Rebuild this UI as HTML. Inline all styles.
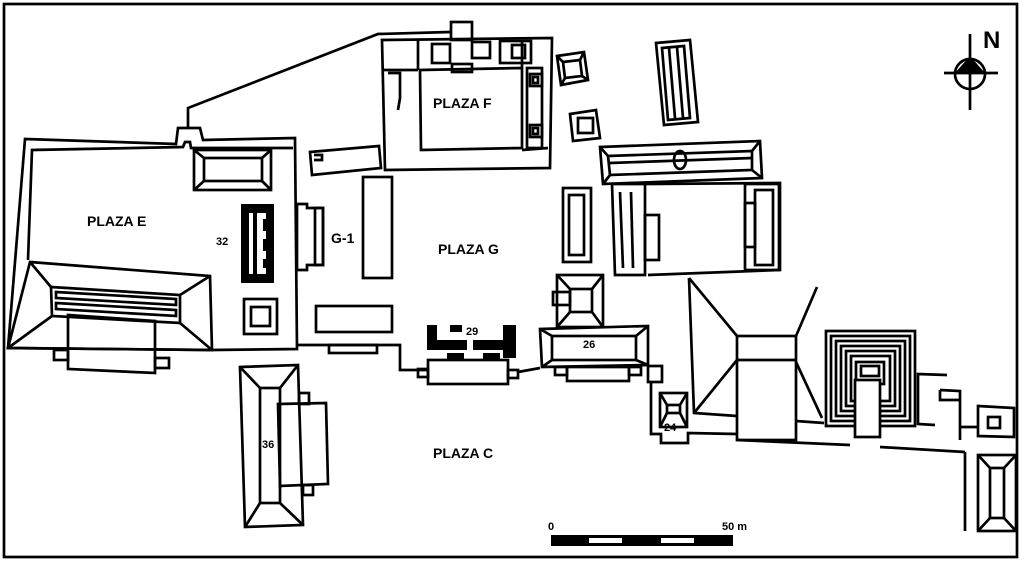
<!DOCTYPE html>
<html><head><meta charset="utf-8"><style>
html,body{margin:0;padding:0;background:#fff}
svg{display:block}
text{font-family:"Liberation Sans",sans-serif;font-weight:bold;fill:#000}
</style></head><body>
<svg width="1024" height="562" viewBox="0 0 1024 562" xmlns="http://www.w3.org/2000/svg">
<rect x="0" y="0" width="1024" height="562" fill="#fff"/>
<g fill="none" stroke="#000" stroke-width="2.7" stroke-linejoin="miter">
<rect x="4" y="4" width="1013" height="553"/>
<polyline points="188,128 188,108 378,34 450,32"/>
<polygon points="25,139 176,144 178,128 200,128 203,140 295,138 297,349 212,350 8,348"/>
<polyline points="28,260 32,150 183,147 185,142 190,142 191,148 293,148"/>
<polygon points="30,262 210,276 212,350 8,348"/>
<polygon points="51,287 180,295 180,323 52,316"/>
<line x1="30" y1="262" x2="51" y2="287"/><line x1="210" y1="276" x2="180" y2="295"/>
<line x1="8" y1="348" x2="52" y2="316"/><line x1="212" y1="350" x2="180" y2="323"/>
<polygon points="56,292 176,299 176,305 56,298"/>
<polygon points="56,303 176,310 176,316 56,309"/>
<polygon points="68,315 155,321 155,373 68,369"/>
<rect x="54" y="350" width="14" height="10"/><rect x="155" y="358" width="14" height="10"/>
<rect x="194" y="150" width="77" height="40"/>
<rect x="204" y="158" width="58" height="23"/>
<line x1="194" y1="150" x2="204" y2="158"/><line x1="271" y1="150" x2="262" y2="158"/>
<line x1="194" y1="190" x2="204" y2="181"/><line x1="271" y1="190" x2="262" y2="181"/>
<rect x="244" y="299" width="33" height="35"/><rect x="251" y="307" width="19" height="19"/>
<polygon points="297,204 307,204 307,208 323,208 323,265 307,265 307,270 297,270"/>
<rect x="315" y="208" width="8" height="57"/>
<rect x="363" y="177" width="29" height="101"/>
<polygon points="310,152 379,146 381,168 312,175"/>
<polyline points="314,155 322,155 322,160 314,160"/>
<rect x="316" y="306" width="76" height="26"/>
<polyline points="297,345 400,345 400,370 428,370"/>
<rect x="329" y="345" width="48" height="8"/>
<polygon points="382,40 552,38 550,168 385,170"/>
<polygon points="420,70 522,68 522,148 421,150"/>
<polyline points="418,40 418,70"/><polyline points="382,70 418,70"/>
<polyline points="388,73 400,73 400,98 398,110"/>
<polyline points="522,68 522,40"/><polyline points="522,150 548,148"/>
<rect x="527" y="68" width="15" height="80"/>
<rect x="432" y="44" width="18" height="19"/><rect x="472" y="42" width="18" height="16"/>
<rect x="500" y="41" width="31" height="22"/><rect x="512" y="45" width="13" height="13"/>
<rect x="451" y="22" width="21" height="18"/><rect x="452" y="64" width="20" height="8"/>
<rect x="530" y="74" width="12" height="12"/><rect x="533" y="77" width="5" height="6"/>
<rect x="530" y="125" width="12" height="12"/><rect x="533" y="128" width="5" height="6"/>
<polygon points="557,56 584,52 588,80 561,85"/>
<polygon points="563,62 580,60 582,76 565,78"/>
<line x1="557" y1="56" x2="563" y2="62"/><line x1="584" y1="52" x2="580" y2="60"/><line x1="588" y1="80" x2="582" y2="76"/><line x1="561" y1="85" x2="565" y2="78"/>
<polygon points="570,114 596,110 600,138 573,141"/>
<rect x="578" y="118" width="15" height="15"/>
<polygon points="656,43 690,40 698,122 664,125"/>
<polygon points="662,48 684,46 690,118 668,120"/>
<line x1="669" y1="48" x2="675" y2="118"/><line x1="677" y1="47" x2="683" y2="118"/>
<polygon points="600,147 760,141 762,178 603,184"/>
<polygon points="608,156 752,151 752,170 610,175"/>
<line x1="600" y1="147" x2="608" y2="156"/><line x1="760" y1="141" x2="752" y2="151"/>
<line x1="603" y1="184" x2="610" y2="175"/><line x1="762" y1="178" x2="752" y2="170"/>
<line x1="610" y1="163" x2="752" y2="158"/>
<ellipse cx="680" cy="160" rx="6" ry="9"/>
<rect x="563" y="188" width="28" height="74"/><rect x="569" y="195" width="15" height="60"/>
<polygon points="612,184 645,184 645,275 615,275"/>
<line x1="620" y1="192" x2="623" y2="268"/><line x1="631" y1="192" x2="633" y2="268"/>
<polyline points="645,184 780,183 780,270 648,275"/>
<rect x="645" y="215" width="14" height="45"/>
<rect x="745" y="184" width="34" height="86"/><rect x="755" y="190" width="18" height="75"/>
<rect x="745" y="203" width="10" height="44"/>
<rect x="428" y="360" width="80" height="24"/>
<rect x="418" y="369" width="10" height="8"/><rect x="508" y="370" width="10" height="8"/>
<line x1="518" y1="372" x2="540" y2="368"/>
<rect x="557" y="275" width="46" height="52"/><rect x="570" y="289" width="22" height="23"/>
<line x1="557" y1="275" x2="570" y2="289"/><line x1="603" y1="275" x2="592" y2="289"/>
<line x1="557" y1="327" x2="570" y2="312"/><line x1="603" y1="327" x2="592" y2="312"/>
<rect x="553" y="292" width="17" height="13"/>
<polygon points="540,329 648,326 648,365 542,367"/>
<rect x="552" y="336" width="84" height="24"/>
<line x1="540" y1="329" x2="552" y2="336"/><line x1="648" y1="326" x2="636" y2="336"/>
<line x1="542" y1="367" x2="552" y2="360"/><line x1="648" y1="365" x2="636" y2="360"/>
<rect x="567" y="367" width="62" height="14"/>
<rect x="555" y="367" width="12" height="8"/><rect x="629" y="367" width="12" height="8"/>
<rect x="648" y="366" width="14" height="16"/>
<rect x="660" y="393" width="27" height="34"/>
<rect x="667" y="405" width="13" height="8"/>
<line x1="660" y1="393" x2="667" y2="405"/><line x1="687" y1="393" x2="680" y2="405"/>
<line x1="660" y1="427" x2="667" y2="413"/><line x1="687" y1="427" x2="680" y2="413"/>
<polyline points="651,382 651,434 661,434 661,443 688,443 688,433 737,434"/>
<polyline points="689,278 694,413 737,416"/>
<line x1="689" y1="278" x2="737" y2="336"/><line x1="694" y1="413" x2="737" y2="360"/>
<rect x="737" y="336" width="59" height="104"/>
<line x1="737" y1="360" x2="796" y2="360"/>
<line x1="796" y1="336" x2="817" y2="287"/><line x1="796" y1="362" x2="822" y2="418"/>
<line x1="796" y1="421" x2="824" y2="423"/>
<line x1="737" y1="440" x2="850" y2="445"/><line x1="880" y1="447" x2="965" y2="452"/>
<rect x="826" y="331" width="89" height="95"/>
<rect x="831" y="336" width="79" height="85"/>
<rect x="836" y="341" width="69" height="75"/>
<rect x="841" y="346" width="59" height="65"/>
<rect x="846" y="351" width="49" height="55"/>
<rect x="851" y="356" width="39" height="45"/>
<rect x="856" y="362" width="28" height="22"/>
<rect x="861" y="366" width="18" height="10"/>
<rect x="855" y="380" width="25" height="57" fill="#fff"/>
<polyline points="947,375 918,374 918,424 935,425"/>
<polyline points="940,390 960,391 960,440"/><polyline points="940,390 940,400 960,400"/>
<polyline points="960,427 978,427"/>
<polygon points="978,406 1014,408 1014,437 978,436"/>
<rect x="988" y="417" width="12" height="11"/>
<line x1="965" y1="452" x2="965" y2="531"/>
<rect x="978" y="455" width="38" height="76"/><rect x="990" y="468" width="14" height="50"/>
<line x1="978" y1="455" x2="990" y2="468"/><line x1="1016" y1="455" x2="1004" y2="468"/>
<line x1="978" y1="531" x2="990" y2="518"/><line x1="1016" y1="531" x2="1004" y2="518"/>
<polygon points="240,367 298,365 303,525 245,527"/>
<rect x="260" y="388" width="20" height="115"/>
<line x1="240" y1="367" x2="260" y2="388"/><line x1="298" y1="365" x2="280" y2="388"/>
<line x1="245" y1="527" x2="260" y2="503"/><line x1="303" y1="525" x2="280" y2="503"/>
<polygon points="278,404 326,403 328,484 280,486"/>
<rect x="299" y="393" width="10" height="11"/><rect x="303" y="485" width="10" height="10"/>
<circle cx="970" cy="74" r="15"/>
<line x1="970" y1="34" x2="970" y2="110"/><line x1="944" y1="73" x2="998" y2="73"/>
</g>
<g fill="#000">
<rect x="241" y="204" width="33" height="79"/>
<rect x="249" y="213" width="4" height="61" fill="#fff"/>
<rect x="257" y="213" width="6" height="61" fill="#fff"/>
<rect x="263" y="213" width="3" height="6" fill="#fff"/>
<rect x="263" y="231" width="3" height="8" fill="#fff"/>
<rect x="263" y="251" width="3" height="8" fill="#fff"/>
<rect x="263" y="268" width="3" height="6" fill="#fff"/>
<rect x="427" y="325" width="10" height="25"/>
<rect x="427" y="340" width="40" height="10"/>
<rect x="473" y="340" width="40" height="10"/>
<rect x="503" y="325" width="13" height="33"/>
<rect x="450" y="325" width="12" height="7"/>
<rect x="447" y="353" width="17" height="7"/><rect x="483" y="353" width="17" height="7"/>
<polygon points="970,56 955,73 985,73"/>
<rect x="551" y="535" width="182" height="11"/>
<rect x="589" y="538" width="33" height="5" fill="#fff"/>
<rect x="661" y="538" width="33" height="5" fill="#fff"/>
</g>
<g font-size="14">
<text x="87" y="226">PLAZA E</text>
<text x="433" y="108">PLAZA F</text>
<text x="438" y="254">PLAZA G</text>
<text x="433" y="458">PLAZA C</text>
<text x="331" y="243">G-1</text>
</g>
<g font-size="11">
<text x="216" y="245">32</text>
<text x="466" y="335">29</text>
<text x="583" y="348">26</text>
<text x="262" y="448">36</text>
<text x="664" y="431">24</text>
<text x="548" y="530">0</text>
<text x="722" y="530">50 m</text>
</g>
<text x="983" y="48" font-size="24">N</text>
</svg>
</body></html>
